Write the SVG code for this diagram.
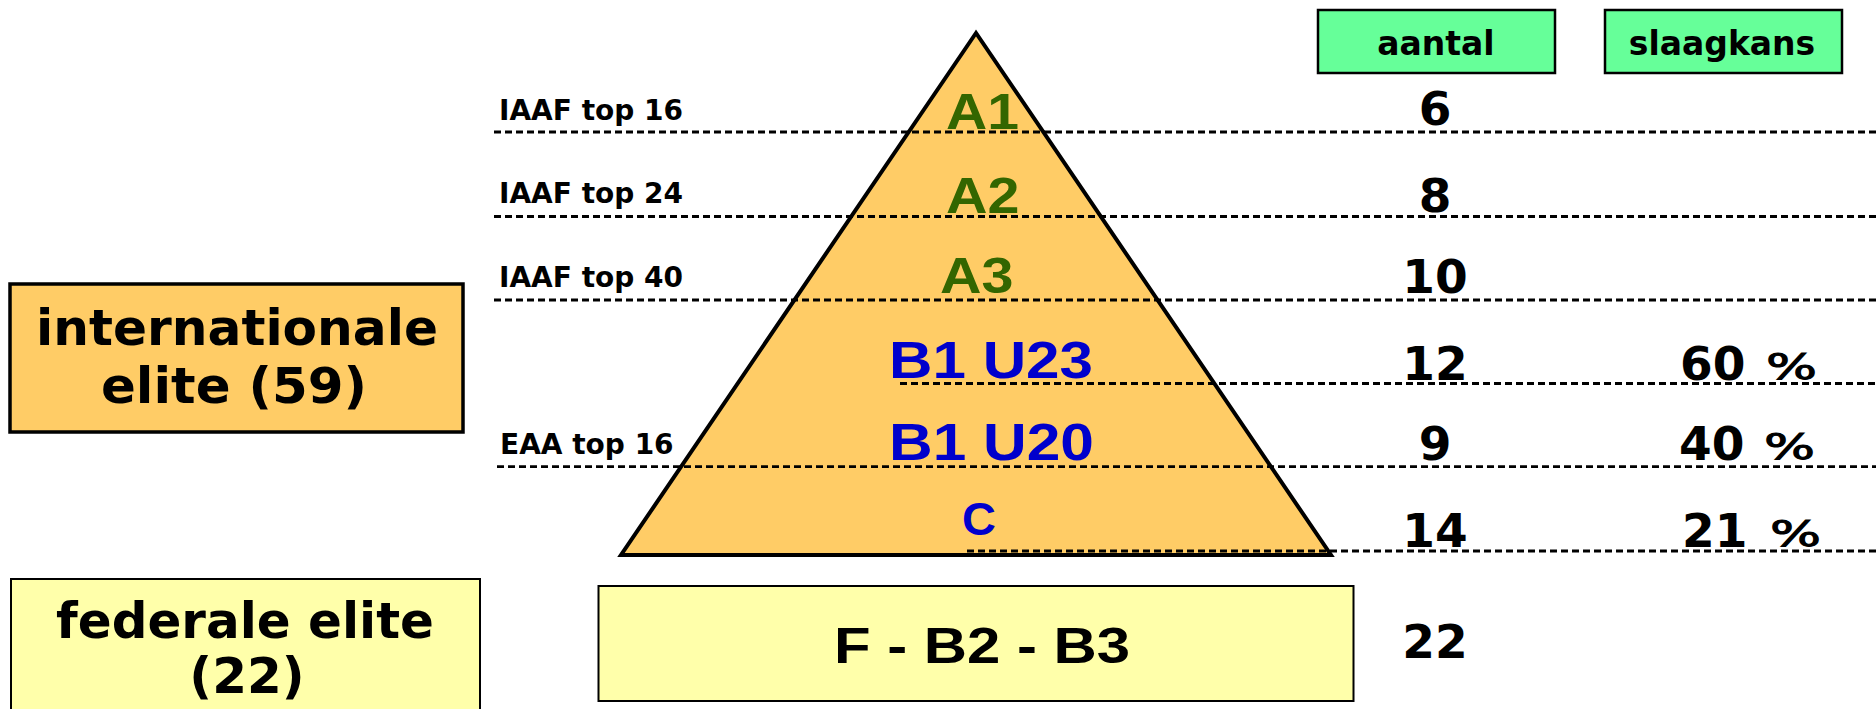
<svg xmlns="http://www.w3.org/2000/svg" width="1876" height="709" viewBox="0 0 1876 709">
<style>
.v{font-family:"DejaVu Sans","Verdana",sans-serif;font-weight:bold;fill:#000}
.vr{font-family:"DejaVu Sans","Verdana",sans-serif;font-weight:normal;fill:#000;stroke:#000;stroke-width:1}
.a{font-family:"Liberation Sans",Arial,sans-serif;font-weight:bold}
.g{fill:#336600}
.b{fill:#0000CC}
.dash{stroke:#000;stroke-width:2.8;stroke-dasharray:7 4;fill:none}
.lbl{font-size:28px}
.num{font-size:47px;text-anchor:middle}
.pct{font-size:47px}
.pc{font-size:35px}
.hdr{font-size:33px;text-anchor:middle}
</style>
<rect width="1876" height="709" fill="#fff"/>

<g id="intl-elite">
<rect x="10" y="284" width="453" height="148" fill="#FFCC66" stroke="#000" stroke-width="3.5"/>
<text class="v" x="237" y="345" font-size="49" text-anchor="middle" textLength="402" lengthAdjust="spacingAndGlyphs">internationale</text>
<text class="v" x="234" y="403" font-size="50" text-anchor="middle" textLength="266" lengthAdjust="spacingAndGlyphs">elite (59)</text>
</g>

<g id="fed-elite">
<rect x="11" y="579" width="469" height="145" fill="#FFFFAA" stroke="#000" stroke-width="2"/>
<text class="v" x="245" y="638" font-size="50" text-anchor="middle" textLength="378" lengthAdjust="spacingAndGlyphs">federale elite</text>
<text class="v" x="247" y="693" font-size="50" text-anchor="middle">(22)</text>
</g>

<g id="pyramid">
<polygon points="976,33 621,555 1331,555" fill="#FFCC66" stroke="#000" stroke-width="4" stroke-linejoin="miter"/>
</g>

<g id="connectors">
<line class="dash" x1="494" y1="132" x2="1876" y2="132"/>
<line class="dash" x1="494" y1="216.5" x2="1876" y2="216.5"/>
<line class="dash" x1="494" y1="300" x2="1876" y2="300"/>
<line class="dash" x1="900" y1="383.5" x2="1876" y2="383.5"/>
<line class="dash" x1="497" y1="466.7" x2="1876" y2="466.7"/>
<line class="dash" x1="967" y1="551" x2="1876" y2="551"/>
</g>

<g id="level-labels">
<text class="v lbl" x="499" y="120">IAAF top 16</text>
<text class="v lbl" x="499" y="203">IAAF top 24</text>
<text class="v lbl" x="499" y="287">IAAF top 40</text>
<text class="v lbl" x="500" y="454">EAA top 16</text>
</g>

<g id="pyramid-labels">
<text class="a g" x="946" y="129.3" font-size="50" textLength="73" lengthAdjust="spacingAndGlyphs">A1</text>
<text class="a g" x="946" y="213.3" font-size="50" textLength="73.5" lengthAdjust="spacingAndGlyphs">A2</text>
<text class="a g" x="940" y="292.7" font-size="50" textLength="73.5" lengthAdjust="spacingAndGlyphs">A3</text>
<text class="a b" x="889" y="378.3" font-size="51" textLength="204" lengthAdjust="spacingAndGlyphs">B1 U23</text>
<text class="a b" x="889" y="460" font-size="51" textLength="205" lengthAdjust="spacingAndGlyphs">B1 U20</text>
<text class="a b" x="979" y="535" font-size="47" text-anchor="middle">C</text>
</g>

<g id="fed-box">
<rect x="598.5" y="586" width="755" height="115" fill="#FFFFAA" stroke="#000" stroke-width="2"/>
<text class="a" x="834" y="662.7" font-size="50" textLength="296" lengthAdjust="spacingAndGlyphs" fill="#000">F - B2 - B3</text>
</g>

<g id="header-aantal">
<rect x="1318" y="10" width="237" height="63" fill="#66FF99" stroke="#000" stroke-width="2.5"/>
<text class="v hdr" x="1436" y="55">aantal</text>
</g>
<g id="header-slaagkans">
<rect x="1605" y="10" width="237" height="63" fill="#66FF99" stroke="#000" stroke-width="2.5"/>
<text class="v hdr" x="1722" y="55">slaagkans</text>
</g>

<g id="aantal-values">
<text class="v num" x="1435" y="125">6</text>
<text class="v num" x="1435" y="211.7">8</text>
<text class="v num" x="1435" y="293">10</text>
<text class="v num" x="1435" y="380">12</text>
<text class="v num" x="1435" y="460">9</text>
<text class="v num" x="1435" y="546.7">14</text>
<text class="v num" x="1435" y="658">22</text>
</g>

<g id="slaagkans-values">
<text class="v pct" x="1680" y="380">60</text>
<text class="vr pc" x="1766" y="379" textLength="51" lengthAdjust="spacingAndGlyphs">%</text>
<text class="v pct" x="1679" y="460">40</text>
<text class="vr pc" x="1764" y="459" textLength="51" lengthAdjust="spacingAndGlyphs">%</text>
<text class="v pct" x="1682" y="546.7">21</text>
<text class="vr pc" x="1770" y="546" textLength="51" lengthAdjust="spacingAndGlyphs">%</text>
</g>
</svg>
